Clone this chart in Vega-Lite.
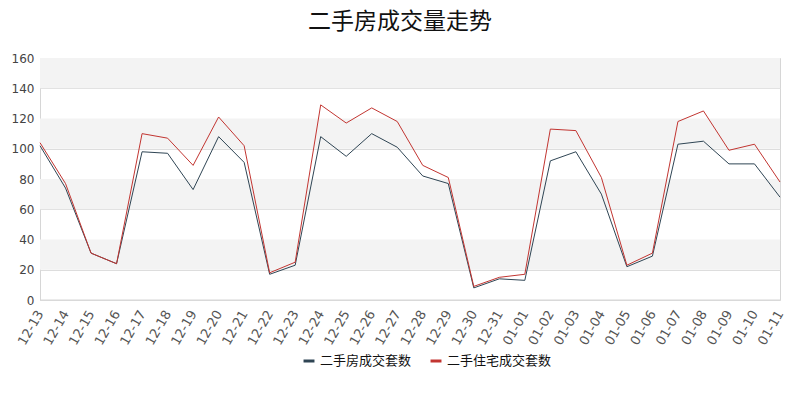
{
  "$schema": "https://vega.github.io/schema/vega-lite/v6.json",
  "width": 740,
  "height": 242,
  "autosize": {"type": "none"},
  "padding": {"left": 40, "top": 58, "right": 20, "bottom": 100},
  "background": "#ffffff",
  "title": {
    "text": "二手房成交量走势",
    "anchor": "middle",
    "font": "Noto Sans CJK SC",
    "fontSize": 23,
    "fontWeight": "normal",
    "color": "#111111",
    "offset": 18,
    "dx": -10
  },
  "config": {
    "view": {"stroke": "#d6d6d6", "strokeWidth": 1},
    "font": "Noto Sans CJK SC",
    "axisY": {
      "title": null,
      "values": [0, 20, 40, 60, 80, 100, 120, 140, 160],
      "labelFont": "DejaVu Sans",
      "labelFontSize": 12,
      "labelColor": "#444444",
      "labelPadding": 6,
      "domain": false,
      "ticks": false,
      "grid": true,
      "gridColor": "#dddddd",
      "gridWidth": 1
    }
  },
  "datasets": {
    "bands": [
      {"lo": 20, "hi": 40},
      {"lo": 60, "hi": 80},
      {"lo": 100, "hi": 120},
      {"lo": 140, "hi": 160}
    ],
    "sales": [
      {"date": "12-13", "二手房成交套数": 102, "二手住宅成交套数": 104},
      {"date": "12-14", "二手房成交套数": 74, "二手住宅成交套数": 77},
      {"date": "12-15", "二手房成交套数": 31, "二手住宅成交套数": 31},
      {"date": "12-16", "二手房成交套数": 24, "二手住宅成交套数": 24},
      {"date": "12-17", "二手房成交套数": 98, "二手住宅成交套数": 110},
      {"date": "12-18", "二手房成交套数": 97, "二手住宅成交套数": 107},
      {"date": "12-19", "二手房成交套数": 73, "二手住宅成交套数": 89},
      {"date": "12-20", "二手房成交套数": 108, "二手住宅成交套数": 121},
      {"date": "12-21", "二手房成交套数": 91, "二手住宅成交套数": 102},
      {"date": "12-22", "二手房成交套数": 17, "二手住宅成交套数": 18},
      {"date": "12-23", "二手房成交套数": 23, "二手住宅成交套数": 25},
      {"date": "12-24", "二手房成交套数": 108, "二手住宅成交套数": 129},
      {"date": "12-25", "二手房成交套数": 95, "二手住宅成交套数": 117},
      {"date": "12-26", "二手房成交套数": 110, "二手住宅成交套数": 127},
      {"date": "12-27", "二手房成交套数": 101, "二手住宅成交套数": 118},
      {"date": "12-28", "二手房成交套数": 82, "二手住宅成交套数": 89},
      {"date": "12-29", "二手房成交套数": 77, "二手住宅成交套数": 81},
      {"date": "12-30", "二手房成交套数": 8, "二手住宅成交套数": 9},
      {"date": "12-31", "二手房成交套数": 14, "二手住宅成交套数": 15},
      {"date": "01-01", "二手房成交套数": 13, "二手住宅成交套数": 17},
      {"date": "01-02", "二手房成交套数": 92, "二手住宅成交套数": 113},
      {"date": "01-03", "二手房成交套数": 98, "二手住宅成交套数": 112},
      {"date": "01-04", "二手房成交套数": 70, "二手住宅成交套数": 81},
      {"date": "01-05", "二手房成交套数": 22, "二手住宅成交套数": 23},
      {"date": "01-06", "二手房成交套数": 29, "二手住宅成交套数": 31},
      {"date": "01-07", "二手房成交套数": 103, "二手住宅成交套数": 118},
      {"date": "01-08", "二手房成交套数": 105, "二手住宅成交套数": 125},
      {"date": "01-09", "二手房成交套数": 90, "二手住宅成交套数": 99},
      {"date": "01-10", "二手房成交套数": 90, "二手住宅成交套数": 103},
      {"date": "01-11", "二手房成交套数": 68, "二手住宅成交套数": 78}
    ]
  },
  "layer": [
    {
      "data": {"name": "bands"},
      "mark": {"type": "rect", "color": "#f3f3f3"},
      "encoding": {
        "y": {"field": "lo", "type": "quantitative", "scale": {"domain": [0, 160]}},
        "y2": {"field": "hi"}
      }
    },
    {
      "data": {"name": "sales"},
      "transform": [
        {"fold": ["二手房成交套数", "二手住宅成交套数"], "as": ["series", "value"]}
      ],
      "mark": {"type": "line", "strokeWidth": 1},
      "encoding": {
        "x": {
          "field": "date",
          "type": "ordinal",
          "sort": null,
          "scale": {"type": "point", "padding": 0},
          "axis": {
            "title": null,
            "labelAngle": -60,
            "labelAlign": "right",
            "labelBaseline": "middle",
            "labelFont": "DejaVu Sans",
            "labelFontSize": 13,
            "labelColor": "#555555",
            "labelPadding": 11,
            "domain": false,
            "ticks": false,
            "grid": false
          }
        },
        "y": {
          "field": "value",
          "type": "quantitative",
          "scale": {"domain": [0, 160]}
        },
        "color": {
          "field": "series",
          "type": "nominal",
          "scale": {
            "domain": ["二手房成交套数", "二手住宅成交套数"],
            "range": ["#2f4554", "#c23531"]
          },
          "legend": {
            "title": null,
            "orient": "none",
            "direction": "horizontal",
            "legendX": 262,
            "legendY": 296,
            "symbolType": "stroke",
            "symbolStrokeWidth": 3,
            "symbolSize": 120,
            "labelFont": "Noto Sans CJK SC",
            "labelFontSize": 13,
            "labelColor": "#111111",
            "columnPadding": 12
          }
        }
      }
    },
    {
      "mark": {"type": "rule", "color": "#d6d6d6", "strokeWidth": 1},
      "data": {"values": [{"v": 0}]},
      "encoding": {
        "y": {"field": "v", "type": "quantitative"}
      }
    }
  ]
}
